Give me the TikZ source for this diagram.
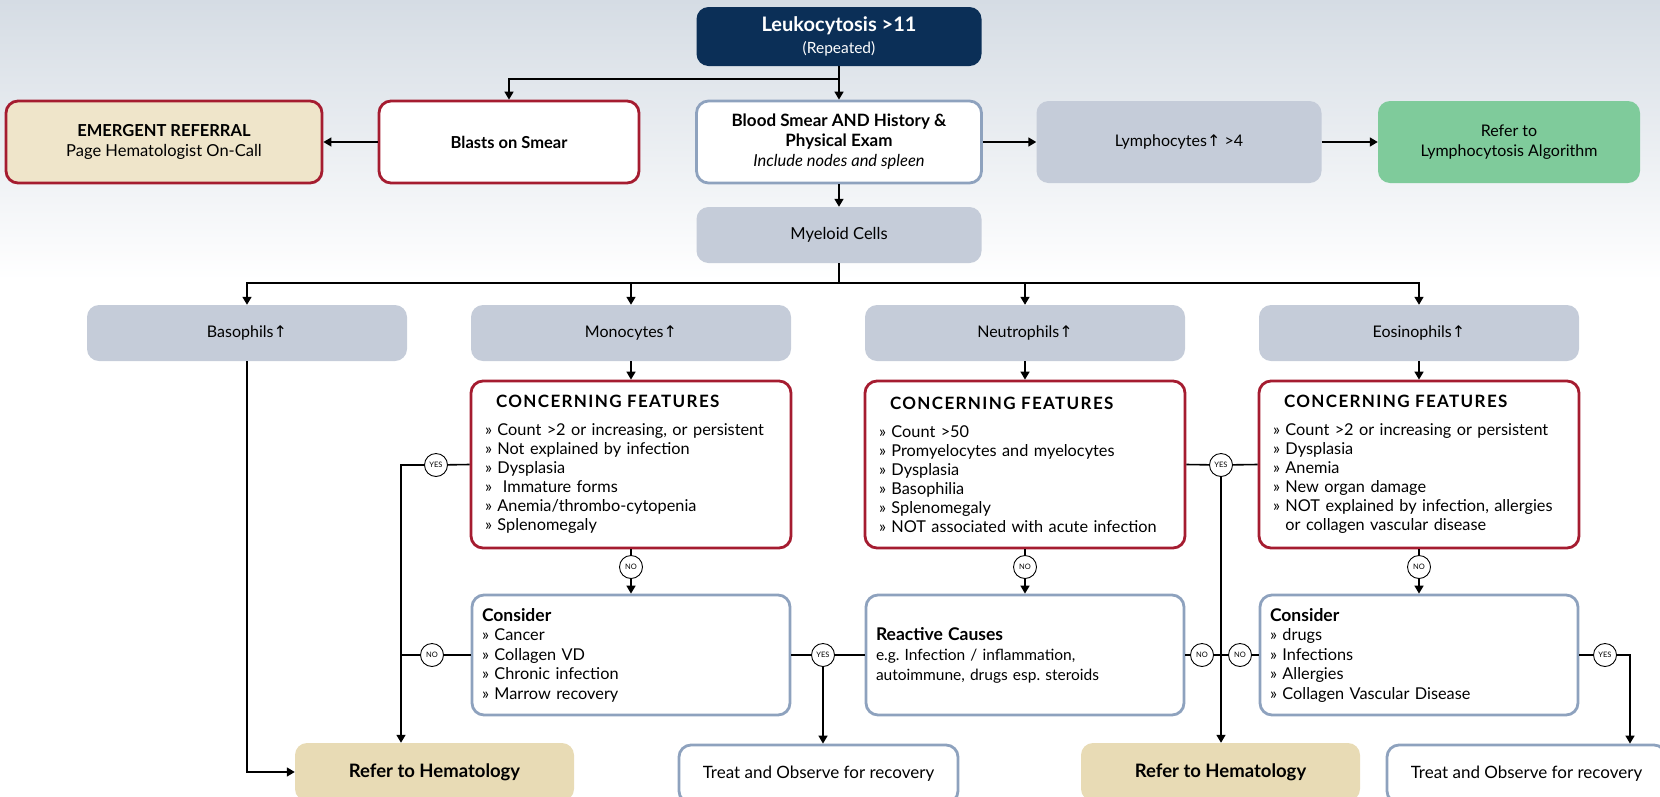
\documentclass[tikz,border=0pt]{standalone}
\usepackage{fontspec}
\setmainfont{Lato}
\newfontfamily\symf{DejaVu Sans}
\newfontfamily\hdfont[LetterSpace=8]{Lato}
\usetikzlibrary{arrows.meta}
\newcommand{\uarr}{{\symf\fontsize{16}{16}\selectfont ↑}}
\newcommand{\bhd}[1]{{\bfseries\fontsize{17.5}{19}\selectfont #1}}
\definecolor{navyc}{HTML}{0B2F57}
\definecolor{crim}{HTML}{A51C30}
\definecolor{bord}{HTML}{8EA2BE}
\definecolor{greyf}{HTML}{C5CCD9}
\definecolor{beigef}{HTML}{E8DBB5}
\definecolor{beigee}{HTML}{EFE5CA}
\definecolor{greenf}{HTML}{7FCB9B}
\definecolor{bgtop}{HTML}{D5DCE4}
\begin{document}
\frenchspacing
\begin{tikzpicture}[x=1pt,y=-1pt,
 bx/.style={rounded corners=12pt, align=center, inner sep=0pt, font=\fontsize{16}{19}\selectfont},
 navyb/.style={bx, fill=navyc, text=white},
 redb/.style={bx, draw=crim, line width=2.8pt, fill=white},
 blueb/.style={bx, draw=bord, line width=2.8pt, fill=white},
 greyb/.style={bx, fill=greyf},
 beigeb/.style={bx, fill=beigef},
 greenb/.style={bx, fill=greenf},
 sz/.style 2 args={minimum width=#1pt, minimum height=#2pt},
 ln/.style={line width=1.6pt, draw=black},
 arr/.style={ln, -{Triangle[length=8pt,width=9pt]}},
 yn/.style={circle, draw=black, line width=0.9pt, fill=white, minimum size=23pt, inner sep=0pt, font=\fontsize{7.5}{8}\selectfont},
]
\useasboundingbox (0,0) rectangle (1660,796);
\clip (0,0) rectangle (1660,796);
\shade[top color=bgtop, bottom color=white] (0,0) rectangle (1660,280);

% top row
\node[navyb, sz={285}{59}, font=\fontsize{15.5}{22}\selectfont] (leuk) at (839,36.5)
 {{\bfseries\fontsize{20}{22}\selectfont Leukocytosis >11}\\(Repeated)};
\node[redb, fill=beigee, sz={316}{82}, font=\fontsize{16.5}{20}\selectfont] (emerg) at (164,142)
 {\textbf{EMERGENT REFERRAL}\\Page Hematologist On-Call};
\node[redb, sz={260}{82}, font=\bfseries\fontsize{16.5}{20}\selectfont] (blasts) at (509,142) {Blasts on Smear};
\node[blueb, sz={285}{82}, font=\fontsize{16.5}{20}\selectfont] (smear) at (839,142)
 {{\bfseries\fontsize{17}{20}\selectfont Blood Smear AND History \&}\\{\bfseries\fontsize{17}{20}\selectfont Physical Exam}\\\textit{Include nodes and spleen}};
\node[greyb, sz={285}{82}] (lymph) at (1179,142) {Lymphocytes\uarr\ >4};
\node[greenb, sz={262}{82}, font=\fontsize{16}{20}\selectfont] (lyalg) at (1509,142) {Refer to\\Lymphocytosis Algorithm};
\node[greyb, sz={285}{56}, font=\fontsize{16.5}{19}\selectfont] (myel) at (839,235) {Myeloid Cells};

% second row
\node[greyb, sz={320}{56}] (baso) at (247,333) {Basophils\uarr};
\node[greyb, sz={320}{56}] (mono) at (631,333) {Monocytes\uarr};
\node[greyb, sz={320}{56}] (neut) at (1025,333) {Neutrophils\uarr};
\node[greyb, sz={320}{56}] (eos) at (1419,333) {Eosinophils\uarr};

% concerning features
\tikzset{cfb/.style={redb, sz={320}{167}, text width=292pt, align=left, inner xsep=14pt, font=\fontsize{16.3}{19}\selectfont}}
\node[cfb] (cfm) at (631,464.5)
 {{\hdfont\bfseries\fontsize{17}{19}\selectfont\hspace*{11pt}CONCERNING FEATURES}\\[9pt]
 » Count >2 or increasing, or persistent\\
 » Not explained by infection\\
 » Dysplasia\\
 » ~Immature forms\\
 » Anemia/thrombo-cytopenia\\
 » Splenomegaly};
\node[cfb] (cfn) at (1025,464.5)
 {{\hdfont\bfseries\fontsize{17}{19}\selectfont\hspace*{11pt}CONCERNING FEATURES}\\[9pt]
 » Count >50\\
 » Promyelocytes and myelocytes\\
 » Dysplasia\\
 » Basophilia\\
 » Splenomegaly\\
 » NOT associated with acute infection};
\node[cfb] (cfe) at (1419,464.5)
 {{\hdfont\bfseries\fontsize{17}{19}\selectfont\hspace*{11pt}CONCERNING FEATURES}\\[9pt]
 » Count >2 or increasing or persistent\\
 » Dysplasia\\
 » Anemia\\
 » New organ damage\\
 » NOT explained by infection, allergies\\
 \phantom{» }or collagen vascular disease};

% consider row
\tikzset{cob/.style={blueb, sz={318}{120}, text width=298pt, align=left, inner xsep=10pt, font=\fontsize{16.3}{19.5}\selectfont}}
\node[cob] (con1) at (631,655)
 {\bhd{Consider}\\» Cancer\\» Collagen VD\\» Chronic infection\\» Marrow recovery};
\node[cob, font=\fontsize{15.5}{20}\selectfont] (react) at (1025,655)
 {\bhd{Reactive Causes}\\e.g. Infection / inflammation,\\autoimmune, drugs esp. steroids};
\node[cob] (con2) at (1419,655)
 {\bhd{Consider}\\» drugs\\» Infections\\» Allergies\\» Collagen Vascular Disease};

% bottom row
\node[beigeb, sz={279}{58}, font=\bfseries\fontsize{18.5}{20}\selectfont] (ref1) at (434.5,772) {Refer to Hematology};
\node[blueb, sz={279}{58}, font=\fontsize{17}{20}\selectfont] (treat1) at (818.5,774) {Treat and Observe for recovery};
\node[beigeb, sz={279}{58}, font=\bfseries\fontsize{18.5}{20}\selectfont] (ref2) at (1220.5,772) {Refer to Hematology};
\node[blueb, sz={279}{58}, font=\fontsize{17}{20}\selectfont] (treat2) at (1526.5,774) {Treat and Observe for recovery};

% yes/no circles
\node[yn] (y1) at (436,465) {YES};
\node[yn] (n1) at (631,567) {NO};
\node[yn] (n2) at (432,655) {NO};
\node[yn] (y2) at (823,655) {YES};
\node[yn] (n3) at (1025,567) {NO};
\node[yn] (y3) at (1221,465) {YES};
\node[yn] (n4) at (1202,655) {NO};
\node[yn] (n5) at (1240,655) {NO};
\node[yn] (n6) at (1419,567) {NO};
\node[yn] (y4) at (1605,655) {YES};

\coordinate (t1) at (839,79);
\coordinate (hub) at (839,283);
\coordinate (c1) at (401,465);
\coordinate (c4) at (1630,655);

% connectors top
\draw[arr] (leuk.south) -- (smear.north);
\draw[arr] (t1) -| (blasts.north);
\draw[arr] (blasts.west) -- (emerg.east);
\draw[arr] (smear.east) -- (lymph.west);
\draw[arr] (lymph.east) -- (lyalg.west);
\draw[arr] (smear.south) -- (myel.north);
\draw[ln] (myel.south) -- (hub);
\draw[arr] (hub) -| (baso.north);
\draw[arr] (hub) -| (mono.north);
\draw[arr] (hub) -| (neut.north);
\draw[arr] (hub) -| (eos.north);
\draw[arr] (mono.south) -- (cfm.north);
\draw[arr] (neut.south) -- (cfn.north);
\draw[arr] (eos.south) -- (cfe.north);

% basophils
\draw[arr] (baso.south) |- (ref1.west);

% monocytes branch
\draw[ln] (cfm.west) -- (y1);
\draw[arr] (y1) -- (c1) -- (c1 |- ref1.north);
\draw[ln] (cfm.south) -- (n1);
\draw[arr] (n1) -- (con1.north);
\draw[ln] (con1.west) -- (n2);
\draw[ln] (n2) -- (c1 |- n2);
\draw[ln] (con1.east) -- (y2);
\draw[ln] (y2) -- (react.west);
\draw[arr] (y2) -- (y2 |- treat1.north);

% neutrophils / eosinophils
\draw[ln] (cfn.east) -- (y3);
\draw[ln] (y3) -- (cfe.west);
\draw[arr] (y3) -- (y3 |- ref2.north);
\draw[ln] (cfn.south) -- (n3);
\draw[arr] (n3) -- (react.north);
\draw[ln] (react.east) -- (n4);
\draw[ln] (n4) -- (n5);
\draw[ln] (n5) -- (con2.west);
\draw[ln] (cfe.south) -- (n6);
\draw[arr] (n6) -- (con2.north);
\draw[ln] (con2.east) -- (y4);
\draw[arr] (y4) -- (c4) -- (c4 |- treat2.north);
\end{tikzpicture}
\end{document}
